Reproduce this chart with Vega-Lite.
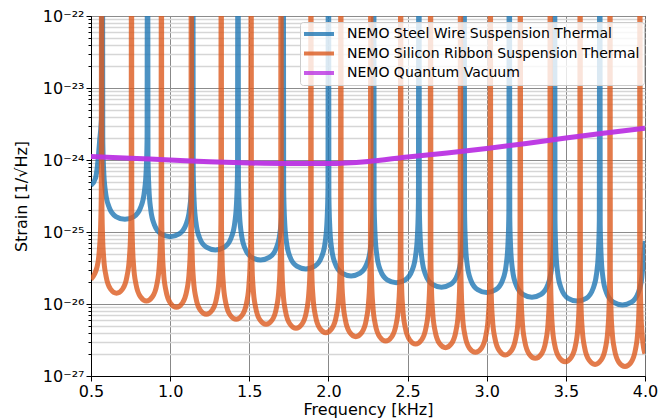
{
  "$schema": "https://vega.github.io/schema/vega-lite/v6.json",
  "autosize": {"type": "none"},
  "width": 554,
  "height": 360,
  "padding": {"left": 91, "top": 16, "right": 25, "bottom": 44},
  "background": "white",
  "config": {
    "font": "DejaVu Sans",
    "view": {"stroke": "black", "strokeWidth": 1}
  },
  "datasets": {
    "steel": [
      {"f":0.5,"v":4.44e-25},{"f":0.5286,"v":5.62e-25},{"f":0.5429,"v":9.2e-25},{"f":0.5543,"v":1.82e-24},{"f":0.5686,"v":4.99e-24},{"f":0.5714,"v":1e-18},
      {"f":0.5743,"v":1.97e-24},{"f":0.58,"v":7.2e-25},{"f":0.5914,"v":3.63e-25},{"f":0.6143,"v":2.22e-25},{"f":0.6571,"v":1.64e-25},{"f":0.7143,"v":1.5e-25},{"f":0.7714,"v":1.64e-25},{"f":0.8143,"v":2.22e-25},{"f":0.8371,"v":3.63e-25},{"f":0.8486,"v":7.2e-25},{"f":0.8543,"v":1.97e-24},{"f":0.8571,"v":1e-18},
      {"f":0.86,"v":1.13e-24},{"f":0.8657,"v":4.13e-25},{"f":0.8771,"v":2.08e-25},{"f":0.9,"v":1.27e-25},{"f":0.9428,"v":9.43e-26},{"f":1.0,"v":8.61e-26},{"f":1.0571,"v":9.43e-26},{"f":1.1,"v":1.27e-25},{"f":1.1228,"v":2.08e-25},{"f":1.1343,"v":4.13e-25},{"f":1.14,"v":1.13e-24},{"f":1.1429,"v":1e-18},
      {"f":1.1457,"v":7.38e-25},{"f":1.1514,"v":2.7e-25},{"f":1.1629,"v":1.36e-25},{"f":1.1857,"v":8.32e-26},{"f":1.2286,"v":6.15e-26},{"f":1.2857,"v":5.62e-26},{"f":1.3429,"v":6.15e-26},{"f":1.3857,"v":8.32e-26},{"f":1.4086,"v":1.36e-25},{"f":1.42,"v":2.7e-25},{"f":1.4257,"v":7.38e-25},{"f":1.4286,"v":1e-18},
      {"f":1.4314,"v":5.36e-25},{"f":1.4371,"v":1.96e-25},{"f":1.4486,"v":9.87e-26},{"f":1.4714,"v":6.04e-26},{"f":1.5143,"v":4.47e-26},{"f":1.5714,"v":4.08e-26},{"f":1.6286,"v":4.47e-26},{"f":1.6714,"v":6.04e-26},{"f":1.6943,"v":9.87e-26},{"f":1.7057,"v":1.96e-25},{"f":1.7114,"v":5.36e-25},{"f":1.7143,"v":1e-18},
      {"f":1.7171,"v":4.02e-25},{"f":1.7229,"v":1.47e-25},{"f":1.7343,"v":7.41e-26},{"f":1.7571,"v":4.53e-26},{"f":1.8,"v":3.35e-26},{"f":1.8571,"v":3.06e-26},{"f":1.9143,"v":3.35e-26},{"f":1.9571,"v":4.53e-26},{"f":1.98,"v":7.41e-26},{"f":1.9914,"v":1.47e-25},{"f":1.9971,"v":4.02e-25},{"f":2.0,"v":1e-18},
      {"f":2.0029,"v":3.22e-25},{"f":2.0086,"v":1.18e-25},{"f":2.02,"v":5.93e-26},{"f":2.0429,"v":3.63e-26},{"f":2.0857,"v":2.68e-26},{"f":2.1429,"v":2.45e-26},{"f":2.2,"v":2.68e-26},{"f":2.2429,"v":3.63e-26},{"f":2.2657,"v":5.93e-26},{"f":2.2771,"v":1.18e-25},{"f":2.2829,"v":3.22e-25},{"f":2.2857,"v":1e-18},
      {"f":2.2886,"v":2.6e-25},{"f":2.2943,"v":9.5e-26},{"f":2.3057,"v":4.79e-26},{"f":2.3286,"v":2.93e-26},{"f":2.3714,"v":2.17e-26},{"f":2.4286,"v":1.98e-26},{"f":2.4857,"v":2.17e-26},{"f":2.5286,"v":2.93e-26},{"f":2.5514,"v":4.79e-26},{"f":2.5629,"v":9.5e-26},{"f":2.5686,"v":2.6e-25},{"f":2.5714,"v":1e-18},
      {"f":2.5743,"v":2.25e-25},{"f":2.58,"v":8.21e-26},{"f":2.5914,"v":4.14e-26},{"f":2.6143,"v":2.53e-26},{"f":2.6571,"v":1.87e-26},{"f":2.7143,"v":1.71e-26},{"f":2.7714,"v":1.87e-26},{"f":2.8143,"v":2.53e-26},{"f":2.8371,"v":4.14e-26},{"f":2.8486,"v":8.21e-26},{"f":2.8543,"v":2.25e-25},{"f":2.8571,"v":1e-18},
      {"f":2.86,"v":1.89e-25},{"f":2.8657,"v":6.91e-26},{"f":2.8771,"v":3.48e-26},{"f":2.9,"v":2.13e-26},{"f":2.9428,"v":1.58e-26},{"f":3.0,"v":1.44e-26},{"f":3.0571,"v":1.58e-26},{"f":3.1,"v":2.13e-26},{"f":3.1228,"v":3.48e-26},{"f":3.1343,"v":6.91e-26},{"f":3.14,"v":1.89e-25},{"f":3.1429,"v":1e-18},
      {"f":3.1457,"v":1.63e-25},{"f":3.1514,"v":5.95e-26},{"f":3.1629,"v":3.0e-26},{"f":3.1857,"v":1.84e-26},{"f":3.2286,"v":1.36e-26},{"f":3.2857,"v":1.24e-26},{"f":3.3429,"v":1.36e-26},{"f":3.3857,"v":1.84e-26},{"f":3.4086,"v":3.0e-26},{"f":3.42,"v":5.95e-26},{"f":3.4257,"v":1.63e-25},{"f":3.4286,"v":1e-18},
      {"f":3.4314,"v":1.44e-25},{"f":3.4371,"v":5.28e-26},{"f":3.4486,"v":2.66e-26},{"f":3.4714,"v":1.63e-26},{"f":3.5143,"v":1.2e-26},{"f":3.5714,"v":1.1e-26},{"f":3.6286,"v":1.2e-26},{"f":3.6714,"v":1.63e-26},{"f":3.6943,"v":2.66e-26},{"f":3.7057,"v":5.28e-26},{"f":3.7114,"v":1.44e-25},{"f":3.7143,"v":1e-18},
      {"f":3.7171,"v":1.27e-25},{"f":3.7229,"v":4.65e-26},{"f":3.7343,"v":2.34e-26},{"f":3.7571,"v":1.43e-26},{"f":3.8,"v":1.06e-26},{"f":3.8571,"v":9.68e-27},{"f":3.9143,"v":1.06e-26},{"f":3.9571,"v":1.43e-26},{"f":3.98,"v":2.34e-26},{"f":3.9914,"v":4.65e-26},{"f":4.0,"v":7.5e-26}
    ],
    "silicon": [
      {"f":0.5,"v":2.2e-26},{"f":0.5385,"v":3.27e-26},{"f":0.5536,"v":5.95e-26},{"f":0.5612,"v":1.27e-25},{"f":0.565,"v":3.65e-25},{"f":0.5669,"v":1e-18},
      {"f":0.5688,"v":2.71e-25},{"f":0.5726,"v":9.43e-26},{"f":0.5801,"v":4.41e-26},{"f":0.5952,"v":2.43e-26},{"f":0.6236,"v":1.61e-26},{"f":0.6614,"v":1.41e-26},{"f":0.6992,"v":1.61e-26},{"f":0.7275,"v":2.43e-26},{"f":0.7426,"v":4.41e-26},{"f":0.7501,"v":9.43e-26},{"f":0.7539,"v":2.71e-25},{"f":0.7558,"v":1e-18},
      {"f":0.7577,"v":2.11e-25},{"f":0.7615,"v":7.36e-26},{"f":0.769,"v":3.44e-26},{"f":0.7841,"v":1.89e-26},{"f":0.8125,"v":1.26e-26},{"f":0.8503,"v":1.1e-26},{"f":0.8881,"v":1.26e-26},{"f":0.9164,"v":1.89e-26},{"f":0.9315,"v":3.44e-26},{"f":0.939,"v":7.36e-26},{"f":0.9428,"v":2.11e-25},{"f":0.9448,"v":1e-18},
      {"f":0.9467,"v":1.73e-25},{"f":0.9505,"v":6.01e-26},{"f":0.958,"v":2.81e-26},{"f":0.9731,"v":1.55e-26},{"f":1.0015,"v":1.03e-26},{"f":1.0393,"v":8.99e-27},{"f":1.0771,"v":1.03e-26},{"f":1.1054,"v":1.55e-26},{"f":1.1205,"v":2.81e-26},{"f":1.128,"v":6.01e-26},{"f":1.1318,"v":1.73e-25},{"f":1.1337,"v":1e-18},
      {"f":1.1356,"v":1.38e-25},{"f":1.1394,"v":4.81e-26},{"f":1.1469,"v":2.25e-26},{"f":1.162,"v":1.24e-26},{"f":1.1904,"v":8.22e-27},{"f":1.2282,"v":7.19e-27},{"f":1.266,"v":8.22e-27},{"f":1.2943,"v":1.24e-26},{"f":1.3094,"v":2.25e-26},{"f":1.3169,"v":4.81e-26},{"f":1.3207,"v":1.38e-25},{"f":1.3227,"v":1e-18},
      {"f":1.3246,"v":1.17e-25},{"f":1.3284,"v":4.09e-26},{"f":1.3359,"v":1.92e-26},{"f":1.351,"v":1.05e-26},{"f":1.3794,"v":7.0e-27},{"f":1.4172,"v":6.12e-27},{"f":1.455,"v":7.0e-27},{"f":1.4833,"v":1.05e-26},{"f":1.4984,"v":1.92e-26},{"f":1.5059,"v":4.09e-26},{"f":1.5097,"v":1.17e-25},{"f":1.5116,"v":1e-18},
      {"f":1.5135,"v":1.0e-25},{"f":1.5173,"v":3.49e-26},{"f":1.5248,"v":1.63e-26},{"f":1.5399,"v":8.98e-27},{"f":1.5683,"v":5.97e-27},{"f":1.6061,"v":5.22e-27},{"f":1.6439,"v":5.97e-27},{"f":1.6722,"v":8.98e-27},{"f":1.6873,"v":1.63e-26},{"f":1.6948,"v":3.49e-26},{"f":1.6986,"v":1.0e-25},{"f":1.7006,"v":1e-18},
      {"f":1.7025,"v":8.81e-26},{"f":1.7063,"v":3.07e-26},{"f":1.7138,"v":1.44e-26},{"f":1.7289,"v":7.9e-27},{"f":1.7573,"v":5.25e-27},{"f":1.7951,"v":4.59e-27},{"f":1.8329,"v":5.25e-27},{"f":1.8612,"v":7.9e-27},{"f":1.8763,"v":1.44e-26},{"f":1.8838,"v":3.07e-26},{"f":1.8876,"v":8.81e-26},{"f":1.8895,"v":1e-18},
      {"f":1.8914,"v":7.66e-26},{"f":1.8952,"v":2.67e-26},{"f":1.9027,"v":1.25e-26},{"f":1.9178,"v":6.86e-27},{"f":1.9462,"v":4.56e-27},{"f":1.984,"v":3.99e-27},{"f":2.0218,"v":4.56e-27},{"f":2.0501,"v":6.86e-27},{"f":2.0652,"v":1.25e-26},{"f":2.0727,"v":2.67e-26},{"f":2.0765,"v":7.66e-26},{"f":2.0785,"v":1e-18},
      {"f":2.0804,"v":6.75e-26},{"f":2.0842,"v":2.35e-26},{"f":2.0917,"v":1.1e-26},{"f":2.1068,"v":6.05e-27},{"f":2.1352,"v":4.02e-27},{"f":2.173,"v":3.52e-27},{"f":2.2108,"v":4.02e-27},{"f":2.2391,"v":6.05e-27},{"f":2.2542,"v":1.1e-26},{"f":2.2617,"v":2.35e-26},{"f":2.2655,"v":6.75e-26},{"f":2.2674,"v":1e-18},
      {"f":2.2693,"v":5.87e-26},{"f":2.2731,"v":2.05e-26},{"f":2.2806,"v":9.58e-27},{"f":2.2957,"v":5.26e-27},{"f":2.3241,"v":3.5e-27},{"f":2.3619,"v":3.06e-27},{"f":2.3997,"v":3.5e-27},{"f":2.428,"v":5.26e-27},{"f":2.4431,"v":9.58e-27},{"f":2.4506,"v":2.05e-26},{"f":2.4544,"v":5.87e-26},{"f":2.4564,"v":1e-18},
      {"f":2.4583,"v":5.33e-26},{"f":2.4621,"v":1.86e-26},{"f":2.4696,"v":8.7e-27},{"f":2.4847,"v":4.78e-27},{"f":2.5131,"v":3.18e-27},{"f":2.5509,"v":2.78e-27},{"f":2.5887,"v":3.18e-27},{"f":2.617,"v":4.78e-27},{"f":2.6321,"v":8.7e-27},{"f":2.6396,"v":1.86e-26},{"f":2.6434,"v":5.33e-26},{"f":2.6453,"v":1e-18},
      {"f":2.6472,"v":4.74e-26},{"f":2.651,"v":1.65e-26},{"f":2.6585,"v":7.73e-27},{"f":2.6736,"v":4.25e-27},{"f":2.702,"v":2.82e-27},{"f":2.7398,"v":2.47e-27},{"f":2.7776,"v":2.82e-27},{"f":2.8059,"v":4.25e-27},{"f":2.821,"v":7.73e-27},{"f":2.8285,"v":1.65e-26},{"f":2.8323,"v":4.74e-26},{"f":2.8343,"v":1e-18},
      {"f":2.8362,"v":4.09e-26},{"f":2.84,"v":1.42e-26},{"f":2.8475,"v":6.67e-27},{"f":2.8626,"v":3.66e-27},{"f":2.891,"v":2.43e-27},{"f":2.9288,"v":2.13e-27},{"f":2.9666,"v":2.43e-27},{"f":2.9949,"v":3.66e-27},{"f":3.01,"v":6.67e-27},{"f":3.0175,"v":1.42e-26},{"f":3.0213,"v":4.09e-26},{"f":3.0232,"v":1e-18},
      {"f":3.0251,"v":3.76e-26},{"f":3.0289,"v":1.31e-26},{"f":3.0364,"v":6.13e-27},{"f":3.0515,"v":3.37e-27},{"f":3.0799,"v":2.24e-27},{"f":3.1177,"v":1.96e-27},{"f":3.1555,"v":2.24e-27},{"f":3.1838,"v":3.37e-27},{"f":3.1989,"v":6.13e-27},{"f":3.2064,"v":1.31e-26},{"f":3.2102,"v":3.76e-26},{"f":3.2122,"v":1e-18},
      {"f":3.2141,"v":3.38e-26},{"f":3.2179,"v":1.18e-26},{"f":3.2254,"v":5.51e-27},{"f":3.2405,"v":3.03e-27},{"f":3.2689,"v":2.01e-27},{"f":3.3067,"v":1.76e-27},{"f":3.3445,"v":2.01e-27},{"f":3.3728,"v":3.03e-27},{"f":3.3879,"v":5.51e-27},{"f":3.3954,"v":1.18e-26},{"f":3.3992,"v":3.38e-26},{"f":3.4011,"v":1e-18},
      {"f":3.403,"v":3.03e-26},{"f":3.4068,"v":1.06e-26},{"f":3.4143,"v":4.95e-27},{"f":3.4294,"v":2.72e-27},{"f":3.4578,"v":1.81e-27},{"f":3.4956,"v":1.58e-27},{"f":3.5334,"v":1.81e-27},{"f":3.5617,"v":2.72e-27},{"f":3.5768,"v":4.95e-27},{"f":3.5843,"v":1.06e-26},{"f":3.5881,"v":3.03e-26},{"f":3.5901,"v":1e-18},
      {"f":3.592,"v":2.78e-26},{"f":3.5958,"v":9.7e-27},{"f":3.6033,"v":4.54e-27},{"f":3.6184,"v":2.49e-27},{"f":3.6468,"v":1.66e-27},{"f":3.6846,"v":1.45e-27},{"f":3.7224,"v":1.66e-27},{"f":3.7507,"v":2.49e-27},{"f":3.7658,"v":4.54e-27},{"f":3.7733,"v":9.7e-27},{"f":3.7771,"v":2.78e-26},{"f":3.779,"v":1e-18},
      {"f":3.7809,"v":2.59e-26},{"f":3.7847,"v":9.03e-27},{"f":3.7922,"v":4.23e-27},{"f":3.8073,"v":2.32e-27},{"f":3.8357,"v":1.54e-27},{"f":3.8735,"v":1.35e-27},{"f":3.9113,"v":1.54e-27},{"f":3.9396,"v":2.32e-27},{"f":3.9547,"v":4.23e-27},{"f":3.9622,"v":9.03e-27},{"f":3.966,"v":2.59e-26},{"f":3.968,"v":1e-18},
      {"f":3.9699,"v":2.42e-26},{"f":3.9737,"v":8.43e-27},{"f":3.9812,"v":3.94e-27},{"f":3.9963,"v":2.17e-27},{"f":4.0,"v":2.05e-27}
    ],
    "vacuum": [
      {"f":0.5,"v":1.119e-24},{"f":0.75,"v":1.057e-24},{"f":1.0,"v":1.0e-24},{"f":1.25,"v":9.44e-25},{"f":1.5,"v":9.08e-25},{"f":1.75,"v":8.93e-25},{"f":2.0,"v":8.93e-25},{"f":2.25,"v":9.53e-25},{"f":2.5,"v":1.101e-24},{"f":2.75,"v":1.25e-24},{"f":3.0,"v":1.445e-24},{"f":3.25,"v":1.694e-24},{"f":3.5,"v":2.022e-24},{"f":3.75,"v":2.371e-24},{"f":4.0,"v":2.754e-24}
    ]
  },
  "layer": [
    {
      "data": {"name": "steel"},
      "mark": {"type": "line", "clip": true, "strokeWidth": 5, "opacity": 0.8, "interpolate": "monotone"},
      "encoding": {
        "x": {
          "field": "f", "type": "quantitative",
          "scale": {"domain": [0.5, 4], "nice": false, "zero": false},
          "axis": {
            "values": [0.5, 1, 1.5, 2, 2.5, 3, 3.5, 4],
            "format": ".1f",
            "title": "Frequency [kHz]",
            "labelFontSize": 16, "titleFontSize": 16, "titleFontWeight": "normal",
            "labelColor": "black", "titleColor": "black",
            "tickColor": "black", "domainColor": "black", "tickSize": 5,
            "labelPadding": 2, "titlePadding": 2, "labelFlush": false,
            "gridColor": "#7a7a7a", "gridWidth": 0.9
          }
        },
        "y": {
          "field": "v", "type": "quantitative",
          "scale": {"type": "log", "domain": [1e-27, 1e-22], "nice": false},
          "axis": {
            "values": [1e-27,2e-27,3e-27,4e-27,5e-27,6e-27,7e-27,8e-27,9e-27,1e-26,2e-26,3e-26,4e-26,5e-26,6e-26,7e-26,8e-26,9e-26,1e-25,2e-25,3e-25,4e-25,5e-25,6e-25,7e-25,8e-25,9e-25,1e-24,2e-24,3e-24,4e-24,5e-24,6e-24,7e-24,8e-24,9e-24,1e-23,2e-23,3e-23,4e-23,5e-23,6e-23,7e-23,8e-23,9e-23,1e-22],
            "labelExpr": "abs(log(datum.value)/LN10 - round(log(datum.value)/LN10)) < 0.001 ? '10⁻²' + ['⁰','¹','²','³','⁴','⁵','⁶','⁷','⁸','⁹'][-round(log(datum.value)/LN10) - 20] : ''",
            "labelOverlap": false,
            "title": "Strain [1/√Hz]",
            "labelFontSize": 16, "titleFontSize": 16, "titleFontWeight": "normal",
            "labelColor": "black", "titleColor": "black",
            "tickColor": "black", "domainColor": "black",
            "tickSize": {"condition": {"test": "abs(log(datum.value)/LN10 - round(log(datum.value)/LN10)) < 0.001", "value": 5}, "value": 3},
            "gridColor": {"condition": {"test": "abs(log(datum.value)/LN10 - round(log(datum.value)/LN10)) < 0.001", "value": "#8c8c8c"}, "value": "#d6d6d6"},
            "gridWidth": {"condition": {"test": "abs(log(datum.value)/LN10 - round(log(datum.value)/LN10)) < 0.001", "value": 1}, "value": 1.3},
            "labelPadding": 2, "titlePadding": 13
          }
        },
        "color": {
          "datum": "NEMO Steel Wire Suspension Thermal", "type": "nominal",
          "scale": {
            "domain": ["NEMO Steel Wire Suspension Thermal", "NEMO Silicon Ribbon Suspension Thermal", "NEMO Quantum Vacuum"],
            "range": ["#1f77b4", "#dc5a1e", "#bb33e3"]
          },
          "legend": {
            "orient": "none", "legendX": 209, "legendY": 6, "title": null,
            "labelFontSize": 14, "labelColor": "black", "labelLimit": 400,
            "symbolType": "M-2.5,0L2.5,0", "symbolStrokeWidth": 4, "symbolSize": 144, "symbolOpacity": 0.85,
            "symbolOffset": 7,
            "padding": 4, "rowPadding": 3.5, "labelOffset": 20,
            "fillColor": "rgba(255,255,255,0.8)", "strokeColor": "#cccccc", "cornerRadius": 3
          }
        }
      }
    },
    {
      "data": {"name": "silicon"},
      "mark": {"type": "line", "clip": true, "strokeWidth": 5, "opacity": 0.8, "interpolate": "monotone"},
      "encoding": {
        "x": {"field": "f", "type": "quantitative", "scale": {"domain": [0.5, 4], "nice": false, "zero": false}},
        "y": {"field": "v", "type": "quantitative", "scale": {"type": "log", "domain": [1e-27, 1e-22], "nice": false}},
        "color": {"datum": "NEMO Silicon Ribbon Suspension Thermal", "type": "nominal"}
      }
    },
    {
      "data": {"name": "vacuum"},
      "mark": {"type": "line", "clip": true, "strokeWidth": 5, "opacity": 0.95, "interpolate": "monotone"},
      "encoding": {
        "x": {"field": "f", "type": "quantitative", "scale": {"domain": [0.5, 4], "nice": false, "zero": false}},
        "y": {"field": "v", "type": "quantitative", "scale": {"type": "log", "domain": [1e-27, 1e-22], "nice": false}},
        "color": {"datum": "NEMO Quantum Vacuum", "type": "nominal"}
      }
    }
  ]
}
